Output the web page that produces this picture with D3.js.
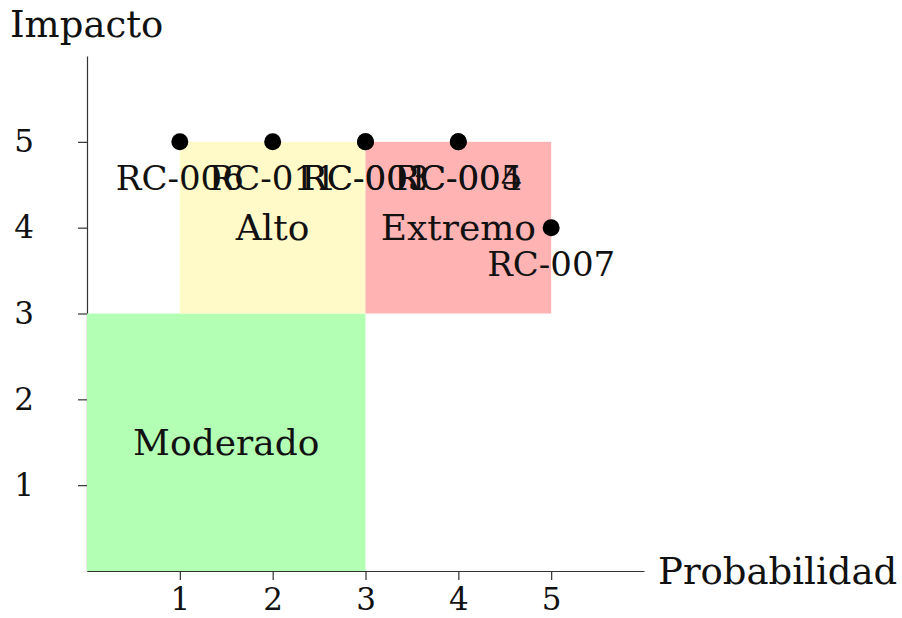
<!DOCTYPE html>
<html><head><meta charset="utf-8">
<script src="https://cdn.jsdelivr.net/npm/d3@7"></script>
<style>body{margin:0;background:#fff}svg text{font-family:"DejaVu Serif",serif;fill:#111}</style>
</head><body><svg id="c" width="902" height="618"></svg>
<script>
const ticks = [1,2,3,4,5];
const zones = [
  {name:"Moderado", x0:0, x1:3, y0:0, y1:3, color:"#b3ffb3", lx:1.5, ly:1.5},
  {name:"Alto", x0:1, x1:3, y0:3, y1:5, color:"#fffac8", lx:2, ly:4},
  {name:"Extremo", x0:3, x1:5, y0:3, y1:5, color:"#ffb3b3", lx:4, ly:4}
];
const riskIds = ["RC-006","RC-011","RC-001","RC-003","RC-004","RC-005","RC-007"];
const probabilidad = [1,2,3,3,4,4,5];
const impacto = [5,5,5,5,5,5,4];

const svg = d3.select("#c");
const x = d3.scaleLinear().domain([0,6]).range([87,644]);
const y = d3.scaleLinear().domain([0,6]).range([571,56]);

// axes
const gx = svg.append("g").attr("transform",`translate(0,${y(0)})`)
  .call(d3.axisBottom(x).tickValues(ticks).tickFormat(d3.format("d")).tickSize(9).tickPadding(8).tickSizeOuter(0));
const gy = svg.append("g").attr("transform",`translate(${x(0)},0)`)
  .call(d3.axisLeft(y).tickValues(ticks).tickFormat(d3.format("d")).tickSize(9).tickPadding(54).tickSizeOuter(0));
[gx,gy].forEach(g=>{
  g.select(".domain").attr("stroke","#333").attr("stroke-width",1.2);
  g.selectAll(".tick line").attr("stroke","#333").attr("stroke-width",1.2);
  g.selectAll(".tick text").attr("font-family","DejaVu Serif").attr("font-size",31).attr("fill","#111");
});
gy.selectAll(".tick text").attr("text-anchor","middle");

// zones
svg.selectAll("rect.zone").data(zones).join("rect").attr("class","zone")
  .attr("x",d=>x(d.x0)).attr("width",d=>x(d.x1)-x(d.x0))
  .attr("y",d=>y(d.y1)).attr("height",d=>y(d.y0)-y(d.y1))
  .attr("fill",d=>d.color);
svg.selectAll("text.zl").data(zones).join("text").attr("class","zl")
  .attr("x",d=>x(d.lx)).attr("y",d=>y(d.ly)).attr("dy","0.35em")
  .attr("text-anchor","middle").attr("font-size",36).text(d=>d.name);

// points
const pts = riskIds.map((id,i)=>({id, p:probabilidad[i], im:impacto[i]}));
svg.selectAll("circle.pt").data(pts).join("circle").attr("class","pt")
  .attr("cx",d=>x(d.p)).attr("cy",d=>y(d.im)).attr("r",8.5).attr("fill","#000");
svg.selectAll("text.pl").data(pts).join("text").attr("class","pl")
  .attr("x",d=>x(d.p)).attr("y",d=>y(d.im)+36).attr("dy","0.35em")
  .attr("text-anchor","middle").attr("font-size",34).text(d=>d.id);

// axis titles
svg.append("text").attr("x",10).attr("y",37).attr("font-size",37).text("Impacto");
svg.append("text").attr("x",658).attr("y",571).attr("dy","0.35em").attr("font-size",37).text("Probabilidad");
</script></body></html>
